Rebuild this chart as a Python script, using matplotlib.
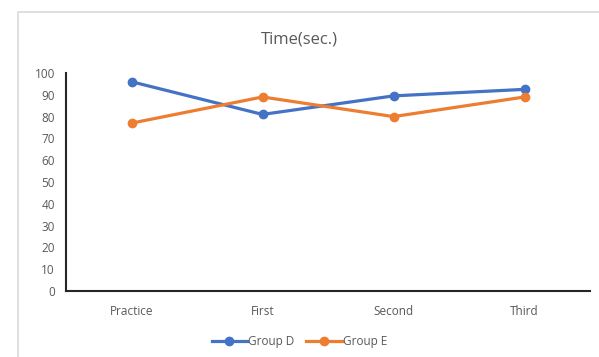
import matplotlib
matplotlib.use("Agg")
import matplotlib.pyplot as plt
from matplotlib.patches import Rectangle

plt.rcParams['font.family'] = ['Open Sans', 'DejaVu Sans']

categories = ["Practice", "First", "Second", "Third"]
group_d = [96, 81, 89.5, 92.5]
group_e = [77, 89, 80, 89]
y_ticks = list(range(0, 101, 10))

text_grey = "#595959"

fig = plt.figure(figsize=(5.99, 3.57), dpi=100)
ax = fig.add_axes([66 / 599, 1 - 291 / 357, (590 - 66) / 599, (291 - 73) / 357])

# light chart-area frame (runs off the right and bottom edges)
fig.patches.append(Rectangle((18 / 599, -1), 2, 2 - 12 / 357, transform=fig.transFigure,
                             fill=False, edgecolor="#d9d9d9", linewidth=1.2))

x = [i + 0.5 for i in range(len(categories))]
ax.plot(x, group_d, color="#4472C4", lw=2.3, marker="o", ms=6, label="Group D")
ax.plot(x, group_e, color="#ED7D31", lw=2.3, marker="o", ms=6, label="Group E")

ax.set_xlim(0, len(categories))
ax.set_ylim(0, 100)
ax.set_yticks(y_ticks)
ax.set_xticks(x)
ax.set_xticklabels(categories)
ax.tick_params(axis="both", length=0, labelsize=8.5, colors=text_grey)
ax.tick_params(axis="x", pad=10)
ax.tick_params(axis="y", pad=8)

for s in ["top", "right"]:
    ax.spines[s].set_visible(False)
for s in ["left", "bottom"]:
    ax.spines[s].set_color("#262626")
    ax.spines[s].set_linewidth(1.5)

fig.text(0.5, 1 - 40 / 357, "Time(sec.)", ha="center", va="center", fontsize=12, color=text_grey)

fig.legend(loc="center", bbox_to_anchor=(0.5, 1 - 342 / 357), ncol=2, frameon=False,
           fontsize=8.5, labelcolor=text_grey, handlelength=3, handletextpad=0.1, columnspacing=1)

fig.savefig("out.png", dpi=100)
